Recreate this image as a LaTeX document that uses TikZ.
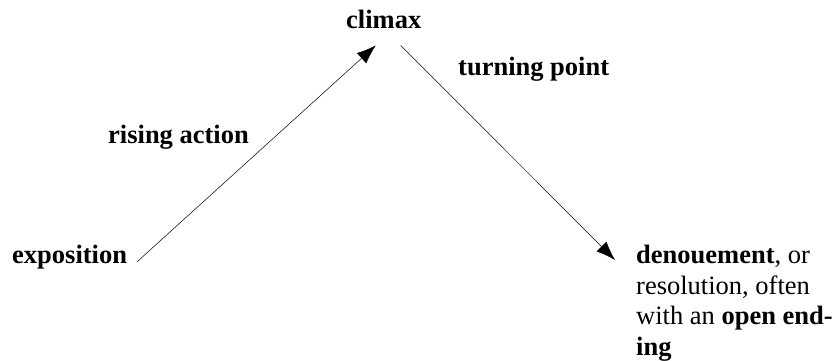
\documentclass[tikz,border=0pt]{standalone}
\usepackage{fontspec}
\setmainfont{Liberation Serif}
\usetikzlibrary{arrows.meta, positioning}

\begin{document}
\begin{tikzpicture}[x=1pt, y=-1pt,
    txt/.style={inner sep=0pt, font=\fontsize{26.5}{30.5}\selectfont},
    tip/.style={-{Latex[length=19pt,width=14pt]}, line width=0.5pt}]
    \useasboundingbox (0,0) rectangle (833,361);
    \node[txt, anchor=base west] (climax) at (346,29) {\textbf{climax}};
    \node[txt, anchor=base west] (turn) at (458,76) {\textbf{turning point}};
    \node[txt, anchor=base west] (rise) at (108,143) {\textbf{rising action}};
    \node[txt, anchor=base west] (expo) at (12,263) {\textbf{exposition}};
    \node[txt, anchor=north west, align=left] (deno) at (636,245)
        {\textbf{denouement}, or\\resolution, often\\with an \textbf{open end-}\\\textbf{ing}};
    \draw[tip] ([shift={(10,5)}]expo.east) -- ([shift={(-8,16)}]climax.south);
    \draw[tip] ([shift={(17,16)}]climax.south) -- ([shift={(-21,15)}]deno.north west);
\end{tikzpicture}
\end{document}
